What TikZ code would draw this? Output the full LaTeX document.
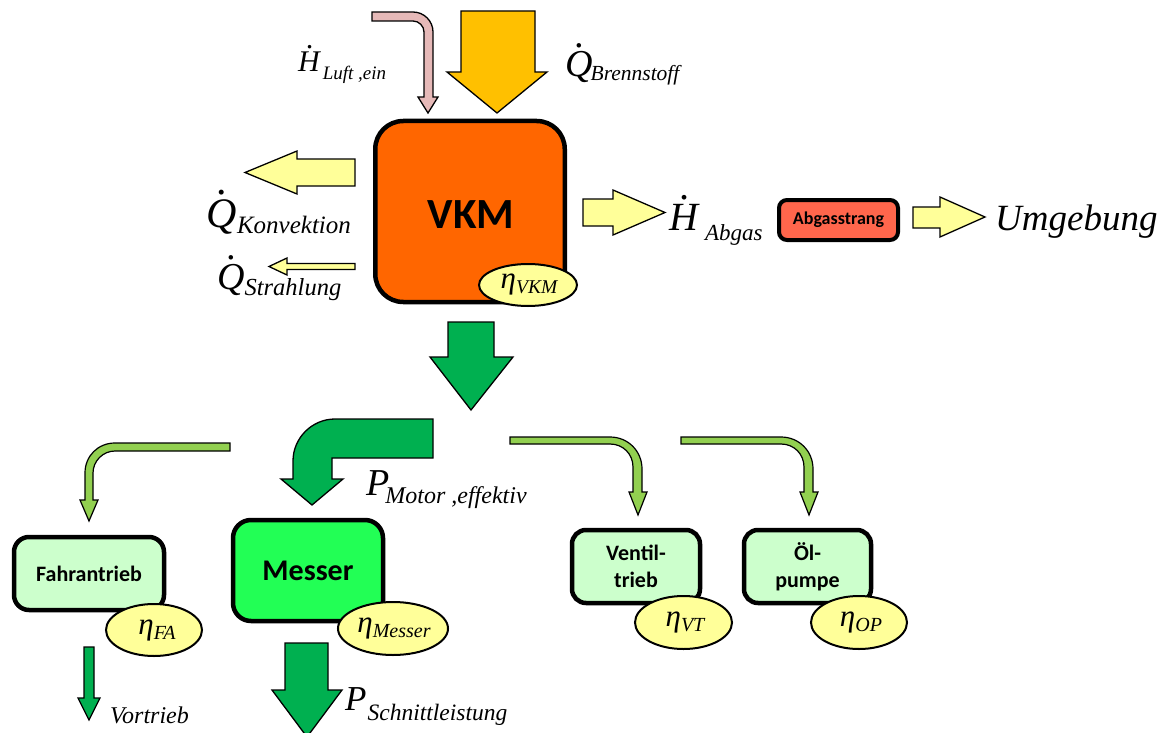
\documentclass[tikz,border=0pt]{standalone}
\usepackage{fontspec}
\setmainfont{Liberation Serif}
\newfontfamily\boxfont{Carlito}
\usetikzlibrary{shapes.geometric}
\definecolor{vkmorange}{HTML}{FF6600}
\definecolor{fuel}{HTML}{FFC000}
\definecolor{airpink}{HTML}{E6B9B8}
\definecolor{lyellow}{HTML}{FFFF99}
\definecolor{dgreen}{HTML}{00B050}
\definecolor{lgreen}{HTML}{92D050}
\definecolor{boxgreen}{HTML}{CCFFCC}
\definecolor{messergreen}{HTML}{22FF55}
\definecolor{abgasred}{HTML}{FF664C}
\newcommand\dotacc[1]{\setbox0=\hbox{#1}\leavevmode\rlap{\hbox to\wd0{\hss\kern0.12\wd0\raisebox{\dimexpr\ht0+0.12em\relax}{.}\hss}}\box0}
\newcommand\mainsym[2]{{\fontsize{#1}{#1}\selectfont\itshape #2}}
\newcommand\subtxt[3]{{\fontsize{#1}{#1}\selectfont\itshape\raisebox{-#2pt}{#3}}}
\begin{document}
\begin{tikzpicture}[x=1pt,y=-1pt,
  blk/.style={draw=black, line width=1.3pt, line join=miter},
  box/.style={draw=black, line width=4.5pt, rounded corners=#1, inner sep=0pt, font=\boxfont\bfseries, align=center},
  box/.default=15pt,
  eta/.style={ellipse, draw=black, line width=2pt, fill=lyellow, inner sep=0pt},
  etatxt/.style={inner sep=0pt},
  lbl/.style={inner sep=0pt, anchor=base west}]
\useasboundingbox (0,0) rectangle (1164,733);

% ---- inputs to VKM ----
\path[blk, fill=airpink] (372,12) -- (413,12) .. controls (424,12) and (433,21) .. (433,32) -- (433,97) -- (438,97) -- (428,113) -- (418,97) -- (424,97) -- (424,32) .. controls (424,26) and (419,21) .. (413,21) -- (372,21) -- cycle;
\path[blk, fill=fuel] (461,11) -- (535,11) -- (535,72) -- (547,72) -- (497,113) -- (447,72) -- (461,72) -- cycle;

\node[lbl] (lluft) at (298,72) {\mainsym{30}{\dotacc{H}}\kern3pt\subtxt{19}{8}{Luft ,ein}};
\node[lbl] (lbrenn) at (565,77) {\mainsym{38}{\dotacc{Q}}\kern-2pt\subtxt{21.5}{4}{Brennstoff}};

% ---- VKM ----
\node[box=28pt, fill=vkmorange, minimum width=189.5pt, minimum height=181pt] (vkm) at (470,211.5) {};
\node[inner sep=0pt, font=\boxfont\bfseries\fontsize{43}{43}\selectfont] (vkmt) at (471,215) {VKM};
\node[eta, minimum width=98pt, minimum height=42pt] (evkm) at (528,285) {};
\node[etatxt] (evkmt) at (529,285) {\mainsym{31}{η}\subtxt{19.5}{5}{VKM}};

% ---- losses ----
\path[blk, fill=lyellow] (355,159) -- (297,159) -- (297,151) -- (245,172.5) -- (297,194) -- (297,186) -- (355,186) -- cycle;
\path[blk, fill=lyellow] (355,263.5) -- (287,263.5) -- (287,258) -- (269,266.5) -- (287,275) -- (287,269.5) -- (355,269.5) -- cycle;
\node[lbl] (lkonv) at (206,227) {\mainsym{42}{\dotacc{Q}}\kern0.5pt\subtxt{25}{6}{Konvektion}};
\node[lbl] (lstrahl) at (217,289) {\mainsym{38}{\dotacc{Q}}\kern0pt\subtxt{24.5}{6}{Strahlung}};

% ---- exhaust ----
\path[blk, fill=lyellow] (583,199) -- (613,199) -- (613,190) -- (665,212.5) -- (613,235) -- (613,226) -- (583,226) -- cycle;
\node[lbl] (labgas) at (669,230) {\mainsym{40}{\dotacc{H}}\kern7pt\subtxt{23}{10}{Abgas}};
\node[box=8pt, line width=4pt, fill=abgasred, minimum width=119pt, minimum height=40pt, font=\boxfont\bfseries\fontsize{18}{18}\selectfont] (abgas) at (838.5,220) {Abgasstrang};
\path[blk, fill=lyellow] (913,207) -- (940,207) -- (940,197) -- (985,217) -- (940,237) -- (940,228) -- (913,228) -- cycle;
\node[lbl] (lumg) at (995,230) {\mainsym{37}{Umgebung}};

% ---- power flow ----
\path[blk, fill=dgreen] (448,322) -- (494,322) -- (494,357) -- (513,357) -- (471,410) -- (430,357) -- (448,357) -- cycle;
\path[blk, fill=dgreen] (433,419) -- (335,419) .. controls (312,419) and (293,438) .. (293,461) -- (293,479) -- (281,479) -- (312,505) -- (343,479) -- (332,479) -- (332,458) -- (433,458) -- cycle;
\node[lbl] (lmotor) at (366,495) {\mainsym{38}{P}\kern-4pt\subtxt{24}{8}{Motor ,effektiv}};

\path[blk, line width=1.2pt, fill=lgreen] (230,443) -- (115,443) .. controls (98,443) and (85,456) .. (85,473) -- (85,500) -- (80,500) -- (89,521) -- (98,500) -- (93,500) -- (93,473) .. controls (93,461) and (103,451) .. (115,451) -- (230,451) -- cycle;
\path[blk, line width=1.2pt, fill=lgreen] (510,437) -- (610,437) .. controls (628,437) and (642,451) .. (642,469) -- (642,492) -- (647,492) -- (638,515) -- (629,492) -- (633,492) -- (633,467) .. controls (633,454) and (623,444) .. (610,444) -- (510,444) -- cycle;
\path[blk, line width=1.2pt, fill=lgreen] (681,437) -- (781,437) .. controls (799,437) and (813,451) .. (813,469) -- (813,492) -- (818,492) -- (809,515) -- (800,492) -- (804,492) -- (804,467) .. controls (804,454) and (794,444) .. (781,444) -- (681,444) -- cycle;

% ---- consumers ----
\node[box=15pt, fill=boxgreen, minimum width=150pt, minimum height=73pt, font=\boxfont\bfseries\fontsize{22}{22}\selectfont] (fa) at (89,573.5) {Fahrantrieb};
\node[eta, minimum width=96pt, minimum height=52pt] (efa) at (154,630) {};
\node[etatxt] (efat) at (157,630) {\mainsym{31}{η}\subtxt{20}{5}{FA}};

\node[box=18pt, fill=messergreen, minimum width=150pt, minimum height=101pt, font=\boxfont\bfseries\fontsize{30}{30}\selectfont] (messer) at (308,570.5) {Messer};
\node[eta, minimum width=110pt, minimum height=53pt] (emes) at (393,628.5) {};
\node[etatxt] (emest) at (394,628.5) {\mainsym{31}{η}\subtxt{20}{5}{Messer}};

\node[box=14pt, fill=boxgreen, minimum width=128pt, minimum height=73pt, font=\boxfont\bfseries\fontsize{22}{27}\selectfont] (vt) at (636,566.5) {Ventil-\\trieb};
\node[eta, minimum width=97pt, minimum height=53pt] (evt) at (683.5,622.5) {};
\node[etatxt] (evtt) at (685,622.5) {\mainsym{31}{η}\subtxt{20}{5}{VT}};

\node[box=14pt, fill=boxgreen, minimum width=127pt, minimum height=73pt, font=\boxfont\bfseries\fontsize{22}{27}\selectfont] (op) at (807.5,566.5) {Öl-\\pumpe};
\node[eta, minimum width=96pt, minimum height=53pt] (eop) at (859,622.5) {};
\node[etatxt] (eopt) at (861,622.5) {\mainsym{31}{η}\subtxt{20}{5}{OP}};

% ---- outputs ----
\path[blk, fill=dgreen] (84,647) -- (94,647) -- (94,698) -- (100,698) -- (89,720) -- (78,698) -- (84,698) -- cycle;
\node[lbl] (lvortrieb) at (110,723) {\mainsym{24}{Vortrieb}};
\path[blk, fill=dgreen] (285,643) -- (328,643) -- (328,690) -- (342,690) -- (307,737) -- (272,690) -- (285,690) -- cycle;
\node[lbl] (lschnitt) at (345,710) {\mainsym{35}{P}\kern1pt\subtxt{23.5}{10}{Schnittleistung}};
\end{tikzpicture}
\end{document}
